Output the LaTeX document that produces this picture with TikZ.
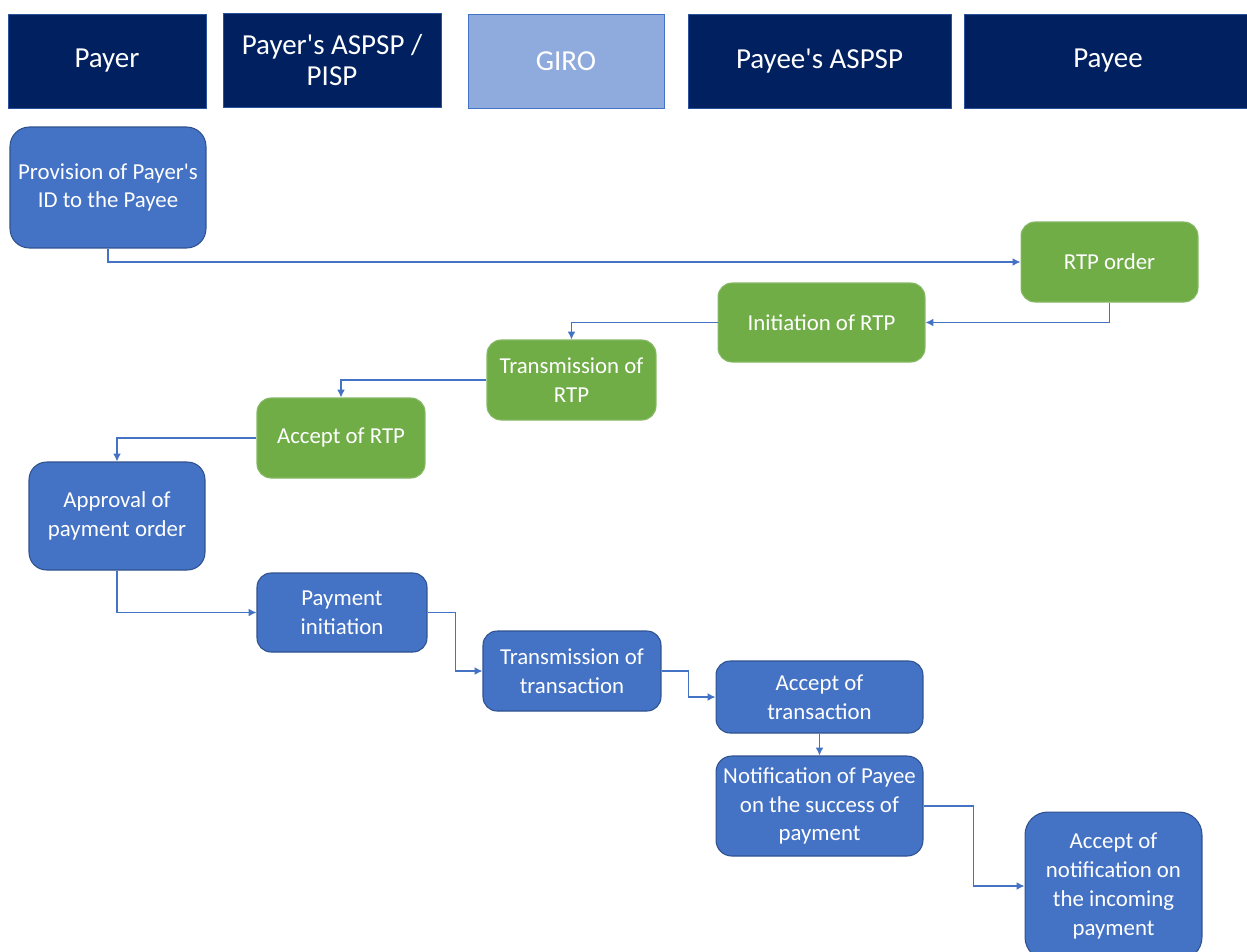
\documentclass[tikz,border=0pt]{standalone}
\usepackage{fontspec}
\setmainfont{Carlito}
\usetikzlibrary{arrows.meta}

\definecolor{navy}{HTML}{002060}
\definecolor{giroblue}{HTML}{8FAADC}
\definecolor{stepblue}{HTML}{4472C4}
\definecolor{stepline}{HTML}{2F528F}
\definecolor{stepgreen}{HTML}{70AD47}

\tikzset{
  lane/.style={rectangle, fill=navy, draw=stepblue!60!navy, line width=0.5pt,
    text=white, align=center, inner sep=0pt,
    font=\fontsize{16.5}{17.6}\selectfont, minimum height=1.88cm},
  bluebox/.style={rectangle, rounded corners=8pt, fill=stepblue, draw=stepline,
    line width=0.6pt, text=white, align=center, inner sep=0pt,
    font=\fontsize{13}{16.4}\selectfont},
  greenbox/.style={bluebox, fill=stepgreen, draw=stepgreen!85!white},
  flow/.style={draw=stepblue, line width=0.8pt, -{Latex[length=4.5pt,width=4.5pt]}}
}

\begin{document}
\begin{tikzpicture}[x=0.02cm, y=-0.02cm]
\useasboundingbox (0,0) rectangle (1247,951);

% lanes
\node[lane, minimum width=3.96cm] (payer) at (107,61) {Payer};
\node[lane, minimum width=4.36cm] (payerbank) at (332,60) {Payer\textquotesingle s ASPSP /\\PISP};
\node[lane, minimum width=3.92cm, fill=giroblue, draw=stepblue] (giro) at (566,61) {GIRO};
\node[lane, minimum width=5.26cm] (payeebank) at (819.5,61) {Payee\textquotesingle s ASPSP};
\node[lane, minimum width=5.76cm] (payee) at (1108,61) {Payee};

% request to pay
\node[bluebox, rounded corners=11pt, minimum width=3.92cm, minimum height=2.42cm] (provision) at (108,187.5) {Provision of Payer\textquotesingle s\\ID to the Payee};
\node[greenbox, minimum width=3.54cm, minimum height=1.6cm] (rtporder) at (1109.5,262) {RTP order};
\node[greenbox, minimum width=4.14cm, minimum height=1.58cm] (rtpinit) at (821.5,322.5) {Initiation of RTP};
\node[greenbox, minimum width=3.38cm, minimum height=1.6cm] (rtptrans) at (571.5,380) {Transmission of\\RTP};
\node[greenbox, minimum width=3.36cm, minimum height=1.6cm] (rtpaccept) at (341,438) {Accept of RTP};

% payment
\node[bluebox, rounded corners=10pt, minimum width=3.52cm, minimum height=2.16cm] (approval) at (117,516) {Approval of\\payment order};
\node[bluebox, minimum width=3.4cm, minimum height=1.58cm] (payinit) at (342,612.5) {Payment\\initiation};
\node[bluebox, minimum width=3.56cm, minimum height=1.6cm] (txtrans) at (572,671) {Transmission of\\transaction};
\node[bluebox, minimum width=4.14cm, minimum height=1.44cm] (txaccept) at (819.5,697) {Accept of\\transaction};
\node[bluebox, rounded corners=9pt, minimum width=4.14cm, minimum height=2cm] (notify) at (819.5,806) {Notification of Payee\\on the success of\\payment};
\node[bluebox, rounded corners=13pt, minimum width=3.54cm, minimum height=2.96cm] (notifyaccept) at (1113.5,886) {Accept of\\notification on\\the incoming\\payment};

% connectors
\draw[flow] (provision.south) |- (rtporder.west);
\draw[flow] (rtporder.south) |- (rtpinit.east);
\draw[flow] (rtpinit.west) -| (rtptrans.north);
\draw[flow] (rtptrans.west) -| (rtpaccept.north);
\draw[flow] (rtpaccept.west) -| (approval.north);
\draw[flow] (approval.south) |- (payinit.west);
\draw[flow] (payinit.east) -- ++(28,0) |- (txtrans.west);
\draw[flow] (txtrans.east) -- ++(27,0) |- (txaccept.west);
\draw[flow] (txaccept.south) -- (notify.north);
\draw[flow] (notify.east) -- ++(50,0) |- (notifyaccept.west);
\end{tikzpicture}
\end{document}
